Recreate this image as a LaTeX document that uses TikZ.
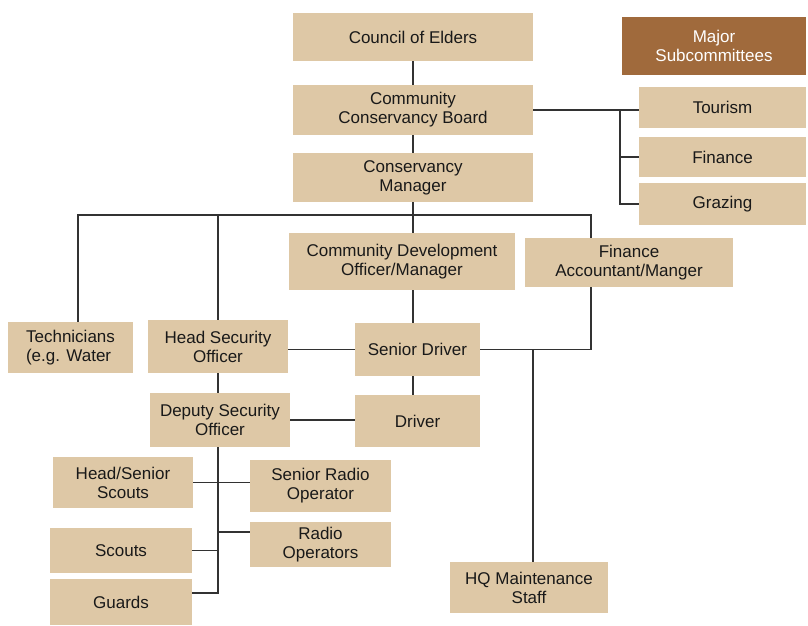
\documentclass[tikz,border=0pt]{standalone}
\usepackage{fontspec}
\setmainfont{Liberation Sans}
\usepackage{xcolor}
\definecolor{tan}{RGB}{222,200,166}
\definecolor{darktan}{RGB}{160,106,60}
\definecolor{linegray}{RGB}{50,50,50}
\begin{document}
\begin{tikzpicture}[
    x=1pt, y=-1pt,
    every node/.style={font=\fontsize{17}{19}\selectfont, text=black!90},
    % Box styles
    orgbox/.style={rectangle, fill=tan, inner sep=0pt, align=center},
    majorbox/.style={rectangle, fill=darktan, inner sep=0pt, align=center, text=white},
    % Connector style
    link/.style={draw=linegray, line width=1.4pt}
]
\useasboundingbox (0,0) rectangle (808,625);

% Top levels
\node[orgbox, minimum width=240, minimum height=48] (council) at (413,37) {Council of Elders};
\node[orgbox, minimum width=240, minimum height=50] (board) at (413,110) {Community\\Conservancy Board};
\node[orgbox, minimum width=240, minimum height=49] (manager) at (413,177.5) {Conservancy\\Manager};

% Subcommittees (right)
\node[majorbox, minimum width=184, minimum height=58] (major) at (714,46) {Major\\Subcommittees};
\node[orgbox, minimum width=167, minimum height=41] (tourism) at (722.5,107.5) {Tourism};
\node[orgbox, minimum width=167, minimum height=40] (finance) at (722.5,157) {Finance};
\node[orgbox, minimum width=167, minimum height=42] (grazing) at (722.5,204) {Grazing};

% Second level
\node[orgbox, minimum width=226, minimum height=57] (cdo) at (402,261.5) {Community Development\\Officer/Manager};
\node[orgbox, minimum width=208, minimum height=49] (facc) at (629,262.5) {Finance\\Accountant/Manger};
\node[orgbox, minimum width=125, minimum height=51, align=left] (tech) at (70.5,347.5) {Technicians\\(e.g. Water};
\node[orgbox, minimum width=140, minimum height=53] (hso) at (218,346.5) {Head Security\\Officer};
\node[orgbox, minimum width=125, minimum height=53] (sdriver) at (417.5,349.5) {Senior Driver};
\node[orgbox, minimum width=125, minimum height=52] (driver) at (417.5,421) {Driver};
\node[orgbox, minimum width=140, minimum height=54] (dso) at (220,420) {Deputy Security\\Officer};

% Security staff
\node[orgbox, minimum width=140, minimum height=51] (hss) at (123,482.5) {Head/Senior\\Scouts};
\node[orgbox, minimum width=141, minimum height=52] (sro) at (320.5,486) {Senior Radio\\Operator};
\node[orgbox, minimum width=141, minimum height=45] (ro) at (320.5,544.5) {Radio\\Operators};
\node[orgbox, minimum width=142, minimum height=45] (scouts) at (121,550.5) {Scouts};
\node[orgbox, minimum width=142, minimum height=46] (guards) at (121,602) {Guards};
\node[orgbox, minimum width=158, minimum height=51] (hq) at (529,587.5) {HQ Maintenance\\Staff};

% Bus points
\coordinate (subbus) at (620,110);
\coordinate (mgrbus) at (413,215);
\coordinate (hqjoin) at (533,349.5);
\coordinate (secbus) at (218,447);

% Top chain
\draw[link] (council) -- (board);
\draw[link] (board) -- (manager);

% Board to subcommittees
\draw[link] (board.east) -- (board.east -| tourism.west);
\draw[link] (subbus) |- (finance.west);
\draw[link] (subbus) |- (grazing.west);

% Manager to second level
\draw[link] (manager.south) -- (mgrbus);
\draw[link] ([xshift=7.5pt]tech.north) |- (mgrbus) -| ([xshift=-38pt]facc.north);
\draw[link] (hso.north) -- (hso.north |- mgrbus);
\draw[link] (mgrbus) -- (mgrbus |- cdo.north);

% Driver chain
\draw[link] (cdo.south -| mgrbus) -- (sdriver.north -| mgrbus);
\draw[link] (sdriver.south -| mgrbus) -- (driver.north -| mgrbus);
\draw[link] (hso.east |- sdriver.west) -- (sdriver.west);
\draw[link] (dso.east) -- (dso.east -| driver.west);
\draw[link] (sdriver.east) -| ([xshift=-38pt]facc.south);
\draw[link] (hqjoin) -- (hqjoin |- hq.north);

% Security chain
\draw[link] (hso.south) -- (hso.south |- dso.north);
\draw[link] (secbus) |- ([yshift=9pt]guards.east);
\draw[link] (hss.east) -- (hss.east -| sro.west);
\draw[link] ([yshift=12.5pt]ro.west) -- ([yshift=12.5pt]ro.west -| secbus);
\draw[link] (scouts.east) -- (scouts.east -| secbus);

\end{tikzpicture}
\end{document}
